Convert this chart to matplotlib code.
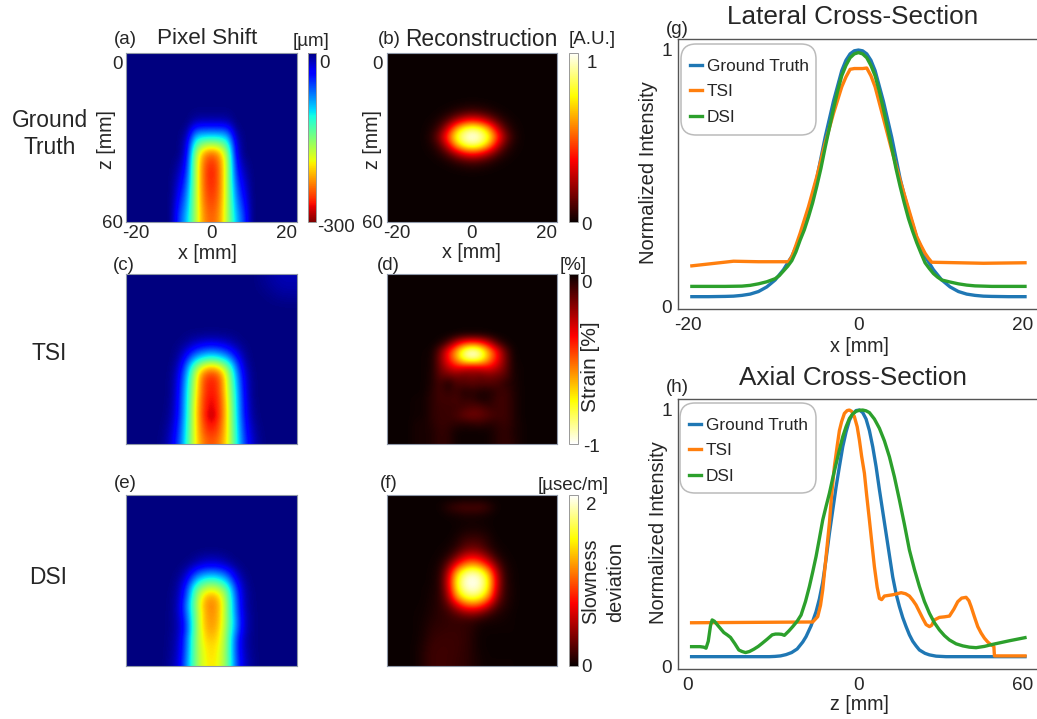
import numpy as np
import matplotlib
matplotlib.use("Agg")
import matplotlib.pyplot as plt
from matplotlib.patches import FancyBboxPatch
from matplotlib.transforms import IdentityTransform

plt.rcParams['font.family'] = ['Liberation Sans', 'DejaVu Sans']

W, H = 1037, 719
BLUE = "#1f77b4"
ORANGE = "#ff7f0e"
GREEN = "#2ca02c"
TEXT = "#262626"

# lateral cross-section (g)
lat_x_gt = [-20, -18, -16, -15, -14, -13, -12, -11, -10, -9, -8, -7, -6, -5.5, -5, -4.5, -4, -3.5, -3, -2.5, -2, -1.5, -1, -.5, 0,
            .5, 1, 1.5, 2, 2.5, 3, 3.5, 4, 4.5, 5, 5.5, 6, 7, 8, 9, 10, 11, 12, 13, 14, 15, 16, 18, 20]
lat_gt = [.04, .04, .041, .042, .045, .05, .06, .078, .105, .145, .197, .27, .375, .435, .50, .58, .66, .73, .80, .86, .92, .96, .985, .997, 1.0,
          .997, .985, .96, .92, .86, .80, .73, .66, .58, .50, .435, .375, .27, .197, .145, .105, .078, .06, .05, .045, .042, .041, .04, .04]
lat_x_dsi = [-20, -16, -14, -13, -12, -11, -10, -9.5, -9, -8.5, -8, -7.5, -7, -6.5, -6, -5.5, -5, -4.5, -4, -3.5, -3, -2.5, -2, -1.5, -1, -.5, 0,
             .5, 1, 1.5, 2, 2.5, 3, 3.5, 4, 4.5, 5, 5.5, 6, 6.5, 7, 7.5, 8, 8.5, 9, 9.5, 10, 11, 12, 13, 14, 16, 20]
lat_dsi = [.08, .08, .081, .084, .09, .098, .11, .122, .14, .158, .18, .215, .26, .30, .35, .405, .47, .54, .62, .695, .77, .84, .90, .94, .97, .985, .99,
           .985, .97, .94, .90, .84, .77, .695, .62, .54, .47, .405, .345, .295, .25, .21, .172, .15, .13, .116, .105, .097, .09, .085, .082, .08, .08]
lat_x_tsi = [-20, -15, -12, -8.4, -8, -7.5, -7, -6, -5, -4, -3, -2, -1.5, -1, -.5, .5, 1, 1.5, 2, 3, 4, 5, 6, 7, 7.5, 8, 8.4, 8.8, 12, 15, 20]
lat_tsi = [.16, .178, .176, .176, .195, .24, .287, .39, .507, .637, .753, .857, .895, .925, .928, .928, .93, .90, .857, .734, .61, .494, .384, .274, .24, .209, .19, .174, .172, .17, .172]

# axial cross-section (h), offset from the 30 mm centre
ax_x_gt = [-30, -16, -15, -14, -13, -12, -11, -10, -9.4, -8.5, -7.6, -7, -6.4, -5.8, -5.2, -4.6, -4, -3.4, -2.8, -2.2, -1.6, -1, -.4, .2, .8, 1.4, 2, 2.6, 3.2, 3.8, 4.4, 5,
           5.6, 6.2, 6.8, 7.4, 8, 8.6, 9.2, 9.8, 10.4, 11, 12, 12.8, 14, 15.8, 30]
ax_gt = [.04, .04, .041, .043, .048, .056, .07, .097, .118, .16, .215, .265, .33, .42, .52, .61, .70, .78, .857, .915, .96, .985, .998, 1.0, .99, .965, .92, .857, .78, .69, .605, .52,
         .435, .35, .285, .235, .192, .157, .125, .10, .082, .066, .053, .047, .042, .04, .04]
ax_x_tsi = [-30, -8.2, -7.3, -6.8, -6.4, -5.8, -5.2, -4.8, -4.3, -3.8, -3.4, -3, -2.5, -2, -1.6, -1.2, -.7, -.2, .2, .6, 1.1, 1.5, 2, 2.5, 2.9, 3.4, 3.8, 4.2, 4.7, 6.2, 7, 7.7, 8.5, 9.2, 9.8, 10.4, 11, 11.6,
            12.2, 12.8, 13.2, 13.7, 14.6, 15.5, 16.4, 17.2, 17.9, 18.6, 19.4, 19.9, 20.3, 20.9, 21.5, 22.1, 22.7, 23.3, 23.9, 24.4, 24.5, 30]
ax_tsi = [.172, .175, .196, .24, .30, .43, .56, .67, .78, .86, .92, .955, .987, .998, 1.0, .995, .974, .935, .883, .82, .754, .67, .572, .47, .39, .31, .267, .262, .276, .281, .285, .289, .285, .276, .26, .241, .215, .189,
          .165, .157, .162, .183, .193, .195, .198, .225, .254, .268, .271, .258, .235, .195, .157, .132, .112, .097, .086, .08, .043, .043]
ax_x_dsi = [-30, -28.5, -27.8, -27.4, -27, -26.6, -26.3, -25.9, -25.1, -24.2, -23.6, -23, -22.2, -21.5, -20.9, -20.3, -19.6, -18.8, -18, -17.3, -16.4, -15.5, -14.9, -14.3, -13.8, -13.3, -12.5, -11.8, -11, -10.3,
            -9.5, -8.8, -8.2, -7.6, -7, -6.4, -5.8, -5.2, -4.6, -4, -3.4, -2.8, -2.2, -1.6, -1, -.4, .2, .8, 1.4, 2, 2.9, 3.8, 4.7, 5.6, 6.5, 7.4, 8.3, 9.2, 10.1, 11, 11.9, 12.8, 13.7, 14.6, 15.5, 16.4, 17.6, 18.8, 20, 21.2, 22.7, 24.2, 25.7, 27.2, 28.6, 30]
ax_dsi = [.079, .079, .077, .073, .10, .16, .183, .178, .157, .134, .125, .115, .09, .066, .06, .056, .06, .069, .08, .092, .108, .125, .128, .128, .127, .123, .14, .157, .178, .202,
          .255, .313, .37, .43, .50, .572, .625, .676, .735, .79, .845, .896, .935, .967, .985, .995, .999, 1.0, .997, .99, .965, .929, .88, .818, .74, .65, .555, .455, .38, .313, .255, .209, .172, .144, .122, .105, .09, .082, .077, .075, .08, .088, .095, .102, .108, .114]

# pixel shift maps in um (magnitude), central columns only, left half mirrored
shift_gt = [
    [0, 0, 0, 0, 0, 3, 3, 3],
    [0, 0, 0, 0, 0, 12, 15, 15],
    [0, 0, 0, 0, 5, 50, 55, 55],
    [0, 0, 0, 0, 15, 95, 108, 110],
    [0, 0, 0, 0, 25, 130, 165, 175],
    [0, 0, 0, 0, 30, 155, 220, 240],
    [0, 0, 0, 6, 40, 165, 235, 260],
    [0, 0, 0, 12, 48, 165, 240, 268],
    [0, 0, 0, 20, 56, 165, 240, 268],
    [0, 0, 0, 27, 65, 165, 240, 265],
    [0, 0, 0, 34, 73, 165, 238, 260],
    [0, 0, 0, 42, 81, 165, 235, 255],
    [0, 0, 0, 50, 88, 165, 230, 250],
    [0, 0, 0, 56, 95, 165, 228, 245],
]
shift_tsi = [
    [0, 0, 0, 0, 2, 4, 5, 6],
    [0, 0, 0, 2, 8, 18, 25, 28],
    [0, 0, 0, 6, 25, 50, 65, 72],
    [0, 0, 0, 12, 50, 95, 120, 130],
    [0, 0, 1, 20, 75, 150, 195, 215],
    [0, 0, 2, 28, 90, 175, 240, 258],
    [0, 0, 3, 32, 100, 180, 250, 268],
    [0, 0, 3, 35, 105, 185, 250, 270],
    [0, 0, 4, 38, 108, 190, 255, 275],
    [0, 0, 6, 40, 110, 195, 255, 280],
    [0, 0, 8, 42, 112, 195, 258, 288],
    [0, 1, 12, 48, 115, 195, 250, 275],
    [0, 2, 16, 52, 118, 195, 245, 262],
    [0, 3, 20, 58, 120, 195, 235, 250],
]
# faint lift in the top right corner of (c)
shift_tsi_corner = [
    [0, 4, 8, 12, 14, 14],
    [0, 3, 6, 10, 12, 12],
    [0, 1, 3, 6, 8, 8],
    [0, 0, 1, 2, 3, 3],
]
shift_dsi = [
    [0, 0, 0, 0, 0, 3, 8, 10, 8, 3, 0, 0, 0, 0, 0],
    [0, 0, 0, 0, 4, 15, 25, 28, 25, 15, 4, 0, 0, 0, 0],
    [0, 0, 0, 3, 18, 50, 70, 75, 70, 50, 18, 3, 0, 0, 0],
    [0, 0, 0, 8, 35, 90, 120, 130, 120, 90, 35, 8, 0, 0, 0],
    [0, 0, 1, 12, 55, 130, 170, 185, 170, 130, 55, 12, 1, 0, 0],
    [0, 0, 2, 15, 65, 145, 205, 225, 205, 145, 65, 15, 2, 0, 0],
    [0, 0, 2, 18, 78, 150, 215, 235, 215, 150, 70, 15, 2, 0, 0],
    [0, 0, 3, 18, 72, 145, 210, 232, 212, 150, 74, 18, 3, 0, 0],
    [0, 0, 3, 15, 62, 145, 210, 228, 212, 150, 82, 20, 3, 0, 0],
    [0, 0, 3, 15, 58, 145, 205, 225, 205, 148, 78, 20, 3, 0, 0],
    [0, 0, 4, 18, 70, 148, 200, 215, 200, 145, 62, 15, 3, 0, 0],
    [0, 0, 5, 20, 72, 150, 195, 205, 195, 145, 58, 15, 3, 0, 0],
    [0, 0, 6, 22, 75, 150, 190, 205, 190, 145, 60, 18, 4, 0, 0],
    [0, 0, 8, 25, 80, 150, 190, 200, 190, 145, 65, 20, 5, 0, 0],
]

# reconstruction maps
recon_gt = [
    [0, 0, 0, .001, .003, .008, .015, .02],
    [0, 0, .002, .008, .025, .06, .09, .11],
    [0, .002, .01, .04, .12, .25, .37, .42],
    [0, .004, .025, .11, .32, .62, .81, .88],
    [0, .005, .05, .20, .48, .78, .94, 1.0],
    [0, .004, .025, .11, .32, .62, .81, .88],
    [0, .002, .01, .04, .12, .25, .37, .42],
    [0, 0, .002, .008, .025, .06, .09, .11],
    [0, 0, 0, .001, .003, .008, .015, .02],
]
strain_tsi = [
    [0, 0, 0, 0, 0, .01, .02, .02, .02, .01, 0, 0, 0, 0, 0],
    [0, 0, 0, .02, .10, .28, .42, .47, .42, .28, .10, .02, 0, 0, 0],
    [0, .005, .01, .14, .38, .62, .88, 1.0, .88, .62, .38, .14, .01, 0, 0],
    [0, .005, .015, .17, .38, .60, .84, .92, .84, .60, .38, .17, .015, 0, 0],
    [0, .005, .02, .15, .28, .36, .33, .30, .33, .36, .28, .15, .02, .005, 0],
    [0, .005, .025, .13, .15, .17, .14, .17, .14, .17, .15, .12, .025, .005, 0],
    [0, .005, .03, .09, .02, .10, .11, .12, .11, .11, .10, .05, .03, .005, 0],
    [0, .005, .04, .09, .05, .08, .03, .05, .03, .03, .06, .08, .035, .005, 0],
    [.01, .01, .05, .08, .08, .09, .06, .06, .02, .03, .08, .08, .04, .005, 0],
    [.01, .01, .05, .07, .07, .07, .09, .11, .11, .07, .07, .08, .04, .005, 0],
    [.01, .01, .05, .07, .07, .09, .14, .16, .14, .11, .08, .08, .04, .005, 0],
    [.02, .02, .04, .07, .06, .05, .04, .05, .06, .04, .05, .07, .04, .01, 0],
    [.02, .02, .03, .06, .05, .01, .005, .005, .005, .01, .04, .06, .03, .01, 0],
    [.02, .02, .03, .06, .05, .01, .005, .005, .005, .01, .04, .06, .04, .01, 0],
]
slowness_dsi = [
    [0, 0, 0, 0, 0, 0, .01, .01, .01, 0, 0, 0, 0, 0, 0],
    [0, 0, 0, .02, .1, .17, .2, .2, .2, .12, .02, 0, 0, 0, 0],
    [0, 0, 0, 0, .02, .03, .05, .05, .04, .02, 0, 0, 0, 0, 0],
    [0, 0, 0, 0, 0, .01, .02, .02, .02, .01, 0, 0, 0, 0, 0],
    [0, 0, 0, 0, 0, .02, .05, .07, .06, .03, 0, 0, 0, 0, 0],
    [0, 0, 0, 0, .01, .05, .14, .17, .15, .07, .01, 0, 0, 0, 0],
    [0, 0, 0, .01, .03, .10, .24, .30, .25, .11, .03, .01, 0, 0, 0],
    [0, 0, .005, .02, .09, .3, .55, .65, .55, .32, .09, .02, .005, 0, 0],
    [0, 0, .01, .05, .28, .7, 1.05, 1.2, 1.05, .7, .28, .06, .01, 0, 0],
    [0, 0, .02, .08, .5, 1.25, 1.7, 1.85, 1.7, 1.25, .5, .09, .02, 0, 0],
    [0, 0, .02, .1, .6, 1.45, 1.9, 2.0, 1.9, 1.45, .6, .11, .02, 0, 0],
    [0, .01, .03, .1, .55, 1.4, 1.85, 1.95, 1.85, 1.4, .55, .11, .03, 0, 0],
    [0, .01, .04, .1, .42, 1.15, 1.55, 1.7, 1.55, 1.15, .42, .1, .03, 0, 0],
    [.005, .015, .05, .1, .25, .6, .95, 1.05, .95, .6, .22, .08, .02, 0, 0],
    [.01, .02, .06, .1, .14, .25, .37, .42, .33, .18, .08, .04, .01, 0, 0],
    [.01, .03, .08, .1, .12, .13, .12, .11, .06, .04, .03, .02, .01, 0, 0],
    [.01, .04, .1, .12, .13, .13, .12, .08, .02, .01, .01, .01, .01, 0, 0],
    [.01, .05, .12, .14, .14, .14, .12, .07, .01, .005, .005, .005, .005, 0, 0],
    [.02, .07, .14, .15, .15, .14, .12, .07, .01, .005, .005, .005, .005, 0, 0],
    [.02, .08, .15, .15, .15, .14, .11, .07, .02, .005, .005, .005, .005, 0, 0],
    [.02, .08, .15, .15, .15, .13, .11, .07, .03, .01, .01, .01, .01, 0, 0],
]


def mirror(half):
    half = np.array(half, dtype=float)
    return np.hstack([half, half[:, -2::-1]])


def full_grid(rows, top):
    rows = np.array(rows, dtype=float)
    return np.pad(rows, ((top, 21 - top - rows.shape[0]), (3, 3)))


def px_axes(x0, y0, x1, y1):
    return fig.add_axes([x0 / W, 1 - y1 / H, (x1 - x0) / W, (y1 - y0) / H])


def put(x, y, s, size=13.5, **kw):
    fig.text(x / W, 1 - y / H, s, fontsize=size, color=TEXT, ha='center', va='center', **kw)


def image_panel(box, grid, cmap, vmin, vmax, ticks=False, cbar=None):
    ax = px_axes(*box)
    im = ax.imshow(grid, cmap=cmap, vmin=vmin, vmax=vmax, extent=(-22.7, 22.7, 60, 0),
                   aspect='auto', interpolation='bicubic', interpolation_stage='data')
    for s in ax.spines.values():
        s.set_color("#8f98a8")
        s.set_linewidth(0.8)
    if ticks:
        ax.set_xticks([-20, 0, 20], ['-20', '0', '20'])
        ax.set_yticks([3.5, 60], ['0', '60'])
        ax.tick_params(length=0, labelsize=13.5, labelcolor=TEXT, pad=2.5)
    else:
        ax.set_xticks([])
        ax.set_yticks([])
    if cbar is not None:
        cax = px_axes(*cbar)
        cb = fig.colorbar(im, cax=cax)
        cb.set_ticks([])
        cb.outline.set_edgecolor("#999999")
        cb.outline.set_linewidth(0.7)
    return ax


def curve_panel(box, series, xlim, xticks, xlabels, frame):
    ax = px_axes(*box)
    for xs, ys, color, label in series:
        ax.plot(xs, ys, color=color, lw=2.4, label=label)
    ax.set_xlim(*xlim)
    ax.set_ylim(-0.008, 1.043)
    ax.set_xticks(xticks, xlabels)
    ax.set_yticks([0.0, 1.004], ['0', '1'])
    ax.tick_params(length=0, labelsize=13.7, labelcolor=TEXT)
    ax.tick_params(axis='x', pad=6)
    ax.tick_params(axis='y', pad=4)
    for s in ax.spines.values():
        s.set_color("#555555")
        s.set_linewidth(1.0)
    x0, y0, x1, y1 = frame
    r = 15
    ax.add_patch(FancyBboxPatch((x0 + r, H - y1 + r), x1 - x0 - 2 * r, y1 - y0 - 2 * r,
                                boxstyle=f"round,pad={r},rounding_size={r}", transform=IdentityTransform(),
                                facecolor='white', edgecolor="#bbbbbb", linewidth=1.1, zorder=3))
    ax.legend(loc='upper left', bbox_to_anchor=((x0 + 9) / W, 1 - (y0 + 15) / H), bbox_transform=fig.transFigure,
              fontsize=12.4, frameon=False, handlelength=0.72, handletextpad=0.25,
              labelspacing=0.6, borderpad=0, borderaxespad=0, labelcolor=TEXT)
    return ax


fig = plt.figure(figsize=(W / 100, H / 100), dpi=100)

grid_c = full_grid(mirror(shift_tsi), 7)
grid_c[:4, -6:] = shift_tsi_corner

image_panel((126, 52.5, 296.5, 222), -full_grid(mirror(shift_gt), 7), 'jet_r', -300, 0, True, (307.5, 52.5, 316, 222))
image_panel((126, 274, 296.5, 444), -grid_c, 'jet_r', -300, 0)
image_panel((126, 495, 296.5, 665.5), -full_grid(shift_dsi, 7), 'jet_r', -300, 0)
image_panel((386.5, 52.5, 557, 222), full_grid(mirror(recon_gt), 6), 'hot', 0, 1, True, (568.7, 52.5, 577.5, 222))
image_panel((386.5, 274, 557, 444), -full_grid(strain_tsi, 7), 'hot_r', -1, 0, False, (568.7, 274, 577.5, 444))
image_panel((386.5, 495, 557, 665.5), full_grid(slowness_dsi, 0), 'hot', 0, 2, False, (568.7, 495, 577.5, 665.5))

curve_panel((677.7, 39, 1045, 309),
            [(lat_x_gt, lat_gt, BLUE, 'Ground Truth'), (lat_x_tsi, lat_tsi, ORANGE, 'TSI'), (lat_x_dsi, lat_dsi, GREEN, 'DSI')],
            (-21.7, 22.4), [-20.5, 0, 19.7], ['-20', '0', '20'], (681, 44, 816, 135))
curve_panel((677.7, 399, 1045, 669),
            [(ax_x_gt, ax_gt, BLUE, 'Ground Truth'), (ax_x_tsi, ax_tsi, ORANGE, 'TSI'), (ax_x_dsi, ax_dsi, GREEN, 'DSI')],
            (-32.5, 33.6), [-30.7, 0, 29.6], ['0', '0', '60'], (680, 403, 816, 493))

# panel letters
for x, y, s in [(125, 39, '(a)'), (389, 39, '(b)'), (124, 265, '(c)'), (388, 265, '(d)'),
                (125, 483, '(e)'), (389, 483, '(f)'), (677, 29, '(g)'), (677, 387, '(h)')]:
    put(x, y, s)

put(207, 39, 'Pixel Shift', 16.2)
put(481, 40, 'Reconstruction', 16.4)
put(853, 17, 'Lateral Cross-Section', 18.8)
put(853, 378, 'Axial Cross-Section', 18.8)

put(50, 134, 'Ground\nTruth', 16.4, linespacing=1.25)
put(49, 354, 'TSI', 16.4)
put(48, 577, 'DSI', 16.4)

# axis titles
put(107, 140, 'z [mm]', 14.2, rotation=90)
put(207, 254, 'x [mm]', 14.2)
put(373, 140, 'z [mm]', 14.2, rotation=90)
put(471, 253, 'x [mm]', 14.2)
put(859, 347, 'x [mm]', 14.2)
put(859, 704, 'z [mm]', 14.2)
put(648, 173, 'Normalized Intensity', 14.5, rotation=90)
put(658, 533, 'Normalized Intensity', 14.5, rotation=90)

# colorbar labels
put(325, 63, '0')
put(336, 227, '-300')
put(311.5, 42, '[\u00b5m]')
put(592, 63, '1')
put(586, 226, '0')
put(592, 40, '[A.U.]')
put(586, 284, '0')
put(592, 447, '-1')
put(573, 265, '[%]')
put(591, 367, 'Strain [%]', 15, rotation=90)
put(591, 505, '2')
put(586, 668, '0')
put(573, 485, '[\u00b5sec/m]')
put(591, 581, 'Slowness', 14.3, rotation=90)
put(616, 582, 'deviation', 14.3, rotation=90)

fig.savefig('out.png', dpi=100)
